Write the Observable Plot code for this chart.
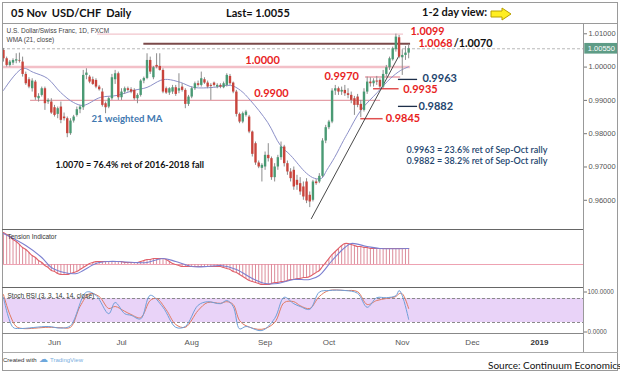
<!DOCTYPE html>
<html><head><meta charset="utf-8">
<script src="https://cdn.jsdelivr.net/npm/d3@7"></script>
<script src="https://cdn.jsdelivr.net/npm/@observablehq/plot@0.6"></script>
<style>
html,body{margin:0;padding:0;background:#fff;}
#wrap{position:relative;width:620px;height:372px;overflow:hidden;font-family:Lato,"Open Sans",sans-serif;background:#fff;}
.abs{position:absolute;}
.ln{position:absolute;background:#9a9a9a;}
</style></head><body><div id="wrap"></div>
<script>
// ---------------- DATA ----------------
const monthLabels = ["Jun","Jul","Aug","Sep","Oct","Nov","Dec","2019"];
const monthStart  = [16, 37, 59, 82, 102, 125, 147, 168]; // trading-day index of first bar of month
const priceTicks  = [0.96, 0.97, 0.98, 0.99, 1.00, 1.01];
const lastPrice   = 1.0055;

// daily candles, 10 May 2018 .. 05 Nov 2018 (index 0..127)
const open = [1.0050,1.0025,1.0005,1.0012,1.0018,1.0020,1.0015,0.9978,0.9962,0.9935,
0.9955,0.9905,0.9915,0.9935,0.9895,0.9895,0.9878,0.9858,0.9880,0.9850,
0.9845,0.9800,0.9838,0.9855,0.9872,0.9878,0.9975,0.9970,0.9962,0.9960,
0.9940,0.9925,0.9890,0.9880,0.9905,0.9962,0.9980,0.9908,0.9925,0.9935,
0.9932,0.9930,0.9905,0.9915,0.9958,0.9966,1.0020,0.9968,1.0005,1.0002,
0.9990,0.9935,0.9922,0.9925,0.9938,0.9928,0.9940,0.9930,0.9888,0.9910,
0.9935,0.9950,0.9945,0.9962,0.9952,0.9945,0.9952,0.9940,0.9945,0.9938,
0.9945,0.9972,0.9952,0.9925,0.9858,0.9835,0.9855,0.9850,0.9805,0.9770,
0.9712,0.9696,0.9700,0.9735,0.9725,0.9668,0.9700,0.9728,0.9760,0.9710,
0.9685,0.9690,0.9660,0.9650,0.9640,0.9655,0.9615,0.9600,0.9655,0.9655,
0.9672,0.9778,0.9818,0.9835,0.9928,0.9935,0.9925,0.9930,0.9920,0.9915,
0.9905,0.9910,0.9888,0.9870,0.9925,0.9955,0.9950,0.9958,0.9960,0.9940,
0.9978,0.9998,1.0022,1.0052,1.0088,1.0028,1.0035,1.0042];
const high = [1.0056,1.0030,1.0020,1.0025,1.0040,1.0042,1.0030,0.9985,0.9968,0.9965,
0.9960,0.9920,0.9940,0.9940,0.9905,0.9905,0.9885,0.9880,0.9895,0.9862,
0.9850,0.9845,0.9855,0.9880,0.9885,0.9990,0.9995,0.9975,0.9970,0.9965,
0.9945,0.9935,0.9895,0.9910,0.9978,0.9990,0.9985,0.9935,0.9940,0.9940,
0.9938,0.9935,0.9920,0.9962,0.9970,1.0040,1.0030,1.0002,1.0040,1.0040,
0.9995,0.9940,0.9938,0.9945,0.9945,0.9980,0.9950,0.9935,0.9915,0.9940,
0.9955,0.9958,0.9985,0.9968,0.9958,0.9950,0.9955,0.9950,0.9950,0.9955,
0.9980,0.9978,0.9955,0.9930,0.9862,0.9865,0.9870,0.9855,0.9808,0.9775,
0.9718,0.9710,0.9745,0.9770,0.9730,0.9710,0.9735,0.9775,0.9765,0.9718,
0.9695,0.9700,0.9675,0.9668,0.9655,0.9665,0.9625,0.9660,0.9662,0.9680,
0.9785,0.9825,0.9840,0.9935,0.9945,0.9940,0.9940,0.9945,0.9935,0.9925,
0.9912,0.9918,0.9900,0.9935,0.9970,0.9968,0.9965,0.9972,0.9965,0.9990,
1.0005,1.0030,1.0060,1.0099,1.0095,1.0052,1.0062,1.0068];
const low = [1.0015,1.0000,1.0000,1.0005,1.0010,1.0012,0.9970,0.9945,0.9935,0.9925,
0.9900,0.9895,0.9910,0.9870,0.9888,0.9858,0.9850,0.9845,0.9830,0.9838,
0.9788,0.9795,0.9832,0.9850,0.9860,0.9870,0.9962,0.9950,0.9945,0.9935,
0.9928,0.9880,0.9860,0.9875,0.9900,0.9948,0.9900,0.9900,0.9918,0.9925,
0.9920,0.9900,0.9890,0.9910,0.9950,0.9962,0.9978,0.9962,0.9995,0.9988,
0.9920,0.9918,0.9915,0.9918,0.9912,0.9920,0.9925,0.9875,0.9882,0.9905,
0.9930,0.9940,0.9940,0.9948,0.9935,0.9900,0.9940,0.9935,0.9935,0.9935,
0.9940,0.9945,0.9920,0.9850,0.9830,0.9830,0.9850,0.9800,0.9730,0.9705,
0.9695,0.9655,0.9690,0.9715,0.9660,0.9655,0.9690,0.9720,0.9700,0.9675,
0.9655,0.9630,0.9630,0.9615,0.9600,0.9590,0.9578,0.9595,0.9645,0.9650,
0.9668,0.9770,0.9812,0.9830,0.9915,0.9915,0.9915,0.9912,0.9905,0.9890,
0.9855,0.9878,0.9848,0.9865,0.9918,0.9940,0.9940,0.9945,0.9935,0.9936,
0.9970,0.9990,1.0018,1.0045,1.0025,0.9975,1.0020,1.0025];
const close = [1.0025,1.0005,1.0015,1.0020,1.0022,1.0018,0.9978,0.9950,0.9940,0.9958,
0.9908,0.9912,0.9935,0.9890,0.9900,0.9862,0.9855,0.9875,0.9840,0.9845,
0.9800,0.9838,0.9850,0.9872,0.9880,0.9975,0.9982,0.9955,0.9948,0.9940,
0.9932,0.9885,0.9878,0.9905,0.9968,0.9980,0.9908,0.9925,0.9935,0.9930,
0.9925,0.9905,0.9915,0.9958,0.9966,1.0020,0.9985,0.9998,1.0000,0.9990,
0.9925,0.9922,0.9935,0.9938,0.9918,0.9935,0.9930,0.9888,0.9910,0.9935,
0.9950,0.9945,0.9965,0.9952,0.9940,0.9942,0.9945,0.9945,0.9940,0.9950,
0.9975,0.9950,0.9925,0.9858,0.9835,0.9860,0.9865,0.9805,0.9738,0.9712,
0.9700,0.9705,0.9735,0.9725,0.9668,0.9700,0.9728,0.9760,0.9710,0.9685,
0.9665,0.9640,0.9645,0.9625,0.9610,0.9598,0.9595,0.9655,0.9650,0.9672,
0.9778,0.9818,0.9835,0.9928,0.9935,0.9925,0.9930,0.9920,0.9915,0.9900,
0.9885,0.9885,0.9870,0.9925,0.9955,0.9950,0.9958,0.9955,0.9940,0.9978,
0.9998,1.0025,1.0055,1.0090,1.0030,1.0035,1.0042,1.0055];

// 21-day weighted MA (day index, value)
const maDay = [0, 6, 9.4, 13.8, 17.9, 21.9, 25, 30.4, 35.7, 40.8, 45, 49.2, 51.4, 55.5, 59.6, 65.8, 71.2, 74.3, 77.4, 82.8, 86.8, 90, 95, 97.5, 99.7, 101.3, 103.8, 106.6, 108, 112, 117.2, 121.3, 124.5, 127];
const maVal = [0.9930,0.9996,0.9984,0.9966,0.9924,0.9894,0.9885,0.9909,0.9915,0.9930,0.9939,0.9960,0.9963,0.9954,0.9939,0.9939,0.9945,0.9930,0.9900,0.9834,0.9765,0.9735,0.9681,0.9666,0.9666,0.9690,0.9729,0.9780,0.9804,0.9870,0.9924,0.9966,0.9990,1.0001];

// Sep-Oct rally trend line
const trendDay = [96.5, 124];
const trendVal = [0.9545, 1.0035];

// Tension indicator (daily value) and its signal line
const tension = [32,30,28,25,23,20,17,15,12,9,7,4,2,-1,-3,-6,-7,-9,-10,-10,
-10,-9,-8,-7,-5,-3,-1,1,2,3,3,3,3,3,3,3,3,3,2,2,
2,2,2,3,4,5,5,6,6,6,6,5,3,1,0,-1,-2,-2,-2,-2,
-2,-2,-2,-2,-2,-2,-2,-2,-2,-3,-4,-5,-7,-8,-10,-12,-14,-16,-17,-18,
-19,-20,-20,-20,-19,-18,-18,-17,-17,-16,-15,-15,-14,-14,-13,-13,-12,-10,-8,-6,
-2,2,6,10,13,16,19,21,21,20,19,18,18,17,17,16,16,16,16,16,
16,16,16,16,16,16,16,16];
const signalDay = [0,7,12,15,19,23,25,29,33,36,41,45,50,54,59,64,68,73,78,82,86,91,96,99,103,107,109,114,118,127];
const signalVal = [31,19,7,-3,-8,-9,-6,1,3,3,2,2,6,3,-2,-2,-1,-5,-14,-19,-19,-15,-15,-11,4,17,21,18,16,16];

// Stoch RSI (3,3,14,14): %K and %D
const kDay = [0,3,5,14,18,21,26,29,33,35,38,40,43,46,50,54,57,61,64,68,70,72,74,76,81,85,88,91,93,96,99,102,107,111,114,117,120,123,124,125,127];
const kVal = [83,8,5,10,6,12,96,88,42,70,42,38,29,88,58,8,10,63,72,67,75,60,4,10,0,30,83,67,60,53,96,100,100,93,58,82,82,87,100,87,28];
const dDay = [0,2,4,6,14,18,21,24,27,30,33,35,38,40,43,46,48,51,54,57,61,64,68,70,72,74,76,81,85,88,91,93,96,99,102,107,111,114,117,120,123,124,125,127];
const dVal = [90,40,10,5,8,7,8,60,92,85,55,60,48,40,32,75,80,52,15,8,50,70,68,72,65,25,12,3,20,70,72,62,55,85,100,100,97,65,75,80,85,92,92,55];

// ---------------- LAYOUT ----------------
const wrap = document.getElementById("wrap");
const xDomain = [-0.3, 181.8];
const GREEN = "#4a9a74", RED = "#c8443c";
const TV = "Liberation Sans, Arial, sans-serif";
const CAL = "Lato, 'Open Sans', sans-serif";

function place(el, left, top) { el.classList.add("abs"); el.style.left = left + "px"; el.style.top = top + "px"; wrap.appendChild(el); return el; }
function line(l, t, w, h, c) { const d = document.createElement("div"); d.className = "ln"; Object.assign(d.style, {left:l+"px", top:t+"px", width:w+"px", height:h+"px"}); if (c) d.style.background = c; wrap.appendChild(d); }
function txt(s, l, t, css) { const d = document.createElement("div"); d.textContent = s; d.style.whiteSpace = "pre"; Object.assign(d.style, css); return place(d, l, t); }

const candles = close.map((c, i) => ({i, o: open[i], h: high[i], l: low[i], c}));
const ma = maDay.map((d, k) => ({i: d, v: maVal[k]}));
const trend = trendDay.map((d, k) => ({i: d, v: trendVal[k]}));

const red = "#e8231e", navy = "#24466f";
const lbl = (s, i, p, fill, opts = {}) => Plot.text([s], {x: () => i, y: () => p, text: d => d, fill, fontFamily: CAL, fontWeight: "bold", fontSize: 11, textAnchor: "start", ...opts});

const main = Plot.plot({
  width: 620, height: 206, marginLeft: 2, marginRight: 37, marginTop: 0, marginBottom: 0,
  style: {background: "transparent", overflow: "visible", fontFamily: TV},
  x: {domain: xDomain, axis: null, label: null},
  y: {domain: [0.95123, 1.01309], axis: null, label: null},
  marks: [
    Plot.ruleY([lastPrice], {stroke: "#b8b8b8", strokeDasharray: "3,2"}),
    Plot.ruleY([1.0099], {x1: 29.5, x2: 125.4, stroke: "#f2c6cd", strokeWidth: 1.3}),
    Plot.ruleY([1.0000], {x1: -0.3, x2: 127.6, stroke: "#f3c0c8", strokeWidth: 2.5}),
    Plot.ruleY([0.9900], {x1: 8.5, x2: 118.2, stroke: "#e4a0a8", strokeWidth: 1.3}),
    Plot.ruleY([0.9970], {x1: 113.5, x2: 124.5, stroke: "#f0b8c0", strokeWidth: 2}),
    Plot.ruleY([0.9935], {x1: 116, x2: 124, stroke: "#e05050", strokeWidth: 1.5}),
    Plot.ruleY([0.9845], {x1: 112, x2: 119, stroke: "#e05050", strokeWidth: 1.5}),
    Plot.ruleY([1.0070], {x1: 44, x2: 127.6, stroke: "#7b4a4a", strokeWidth: 2}),
    Plot.ruleY([0.9963], {x1: 123.8, x2: 129.8, stroke: "#1d2f4a", strokeWidth: 1.3}),
    Plot.ruleY([0.9882], {x1: 123.8, x2: 129.8, stroke: "#1d2f4a", strokeWidth: 1.3}),
    Plot.line(ma, {x: "i", y: "v", stroke: "#8c90c8", strokeWidth: 1, curve: "catmull-rom"}),
    Plot.line(trend, {x: "i", y: "v", stroke: "#333", strokeWidth: 0.9}),
    Plot.ruleX(candles, {x: "i", y1: "l", y2: "h", stroke: "#8c8c8c", strokeWidth: 1}),
    Plot.ruleX(candles, {x: "i", y1: "o", y2: "c", stroke: d => d.c >= d.o ? GREEN : RED, strokeWidth: 2.4}),
    Plot.axisY({anchor: "right", label: null, ticks: priceTicks, tickFormat: d3.format(".5f"), tickSize: 3, tickPadding: 2, fontSize: 7.5, fill: "#555", stroke: "#777"}),
    Plot.rect([lastPrice], {x1: () => 182.2, x2: () => 192.6, y1: d => d - 0.0016, y2: d => d + 0.0016, fill: "#5e9c86"}),
    Plot.text([lastPrice], {x: () => 187.4, y: d => d, text: d => d3.format(".5f")(d), fill: "white", fontSize: 7.5}),
    Plot.text(["U.S. Dollar/Swiss Franc, 1D, FXCM"], {frameAnchor: "top-left", dx: 4, dy: 5, text: d => d, fontSize: 6.5, fill: "#444"}),
    Plot.text(["WMA (21, close)"], {frameAnchor: "top-left", dx: 4, dy: 14, text: d => d, fontSize: 6.5, fill: "#444"}),
    lbl("1.0099", 127.6, 1.0107, red, {fontSize: 10.8}),
    lbl("1.0068", 130.1, 1.0071, red, {fontSize: 10.8}),
    lbl("/1.0070", 141.1, 1.0071, "#111", {fontSize: 10.8}),
    lbl("1.0000", 81.2, 1.0000, red, {textAnchor: "middle", dy: -7}),
    lbl("0.9970", 106, 0.9971, red, {textAnchor: "middle"}),
    lbl("0.9935", 125.3, 0.9934, red),
    lbl("0.9900", 84, 0.9900, red, {textAnchor: "middle", dy: -7}),
    lbl("0.9845", 119.8, 0.9845, red),
    lbl("0.9963", 131.3, 0.9966, navy),
    lbl("0.9882", 130.1, 0.9882, navy),
    lbl("21 weighted MA", 27.6, 0.9843, "#3f78b0", {fontSize: 9.6}),
    lbl("1.0070 = 76.4% ret of 2016-2018 fall", 16.3, 0.9705, "#111", {fontSize: 9}),
    lbl("0.9963 = 23.6% ret of Sep-Oct rally", 126.3, 0.9751, navy, {fontSize: 9, fontWeight: 600}),
    lbl("0.9882 = 38.2% ret of Sep-Oct rally", 126.3, 0.9718, navy, {fontSize: 9, fontWeight: 600})
  ]
});
place(main, 0, 23);

const tensionData = tension.map((v, i) => ({i, v}));
const signal = signalDay.map((d, k) => ({i: d, v: signalVal[k]}));
const tens = Plot.plot({
  width: 620, height: 58, marginLeft: 2, marginRight: 37, marginTop: 0, marginBottom: 0,
  style: {background: "transparent", overflow: "visible", fontFamily: TV},
  x: {domain: xDomain, axis: null, label: null},
  y: {domain: [-23, 35], axis: null, label: null},
  marks: [
    Plot.ruleY([0], {stroke: "#eea2b2", strokeWidth: 1.2}),
    Plot.ruleX(tensionData, {x: "i", y1: 0, y2: "v", stroke: "#dc8c9a", strokeWidth: 1}),
    Plot.line(tensionData, {x: "i", y: "v", stroke: "#e0606a", strokeWidth: 1.1, curve: "catmull-rom"}),
    Plot.line(signal, {x: "i", y: "v", stroke: "#7c80d0", strokeWidth: 1.1, curve: "catmull-rom"}),
    Plot.text(["Tension Indicator"], {frameAnchor: "top-left", dx: 5, dy: 5, fontSize: 6.5, fill: "#333"})
  ]
});
place(tens, 0, 229);

const kLine = kDay.map((d, k) => ({i: d, v: kVal[k]}));
const dLine = dDay.map((d, k) => ({i: d, v: dVal[k]}));
const stoch = Plot.plot({
  width: 620, height: 70, marginLeft: 2, marginRight: 37, marginTop: 0, marginBottom: 24,
  style: {background: "transparent", overflow: "visible", fontFamily: TV},
  x: {domain: xDomain, axis: null, label: null},
  y: {domain: [-7.5, 107.5], axis: null, label: null},
  marks: [
    Plot.rect([0], {x1: () => xDomain[0], x2: () => xDomain[1], y1: () => 20, y2: () => 80, fill: "#e9d3f8"}),
    Plot.ruleY([20, 80], {stroke: "#8a8a8a", strokeDasharray: "3,2"}),
    Plot.line(dLine, {x: "i", y: "v", stroke: "#e07a62", strokeWidth: 1, curve: "catmull-rom"}),
    Plot.line(kLine, {x: "i", y: "v", stroke: "#6f9fd8", strokeWidth: 1, curve: "catmull-rom"}),
    Plot.text(["Stoch RSI (3, 3, 14, 14, close)"], {frameAnchor: "top-left", dx: 5, dy: 6, fontSize: 6.5, fill: "#333"}),
    Plot.axisY({anchor: "right", label: null, ticks: [0, 100], tickFormat: d => d.toFixed(4), tickSize: 3, tickPadding: 1, fontSize: 6.3, dy: 1.5, fill: "#555", stroke: "#777"}),
    Plot.axisX({label: null, ticks: monthStart.slice(0, 7), tickFormat: d => monthLabels[monthStart.indexOf(d)], tickSize: 0, tickPadding: 6, fontSize: 8, fill: "#555"}),
    Plot.axisX({label: null, ticks: monthStart.slice(7), tickFormat: d => monthLabels[monthStart.indexOf(d)], tickSize: 0, tickPadding: 6, fontSize: 8, fill: "#333", fontWeight: "bold"})
  ]
});
place(stoch, 0, 287);

// frame lines
line(2, 2, 616, 1); line(2, 370, 616, 1); line(2, 2, 1, 369); line(617, 2, 1, 369);
line(2, 23, 616, 1);
line(2, 352, 616, 1, "#aaa");
line(583, 23, 1, 329, "#999");
line(2, 229, 581, 1, "#666");
line(2, 287, 581, 1, "#666");
line(2, 333, 581, 1, "#888");

// header
txt("05 Nov  USD/CHF  Daily", 11, 6, {fontFamily: CAL, fontWeight: "bold", fontSize: "11px", color: "#111"});
txt("Last= 1.0055", 226, 6, {fontFamily: CAL, fontWeight: "bold", fontSize: "11px", color: "#111"});
txt("1-2 day view:", 422, 5, {fontFamily: CAL, fontWeight: "bold", fontSize: "11px", color: "#111"});
const arrow = document.createElement("div");
arrow.innerHTML = '<svg width="22" height="14" viewBox="0 0 22 14"><polygon points="1,4 12,4 12,1 21,7 12,13 12,10 1,10" fill="#ffee22" stroke="#b8a000" stroke-width="1"/></svg>';
place(arrow, 490, 5);

// footer
txt("Created with", 3, 357, {fontFamily: TV, fontSize: "6px", color: "#333"});
txt("\u2601", 39, 354, {fontFamily: "DejaVu Sans", fontSize: "9px", color: "#6fa8dc"});
txt("TradingView", 50, 357, {fontFamily: TV, fontSize: "6px", color: "#7aaee0"});
txt("Source: Continuum Economics", 488, 359, {fontFamily: CAL, fontSize: "10px", color: "#111"});
</script></body></html>
